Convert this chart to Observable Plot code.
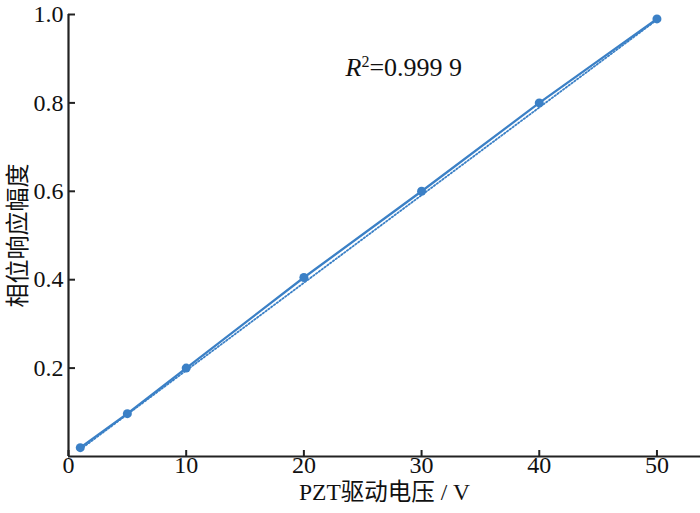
<!DOCTYPE html>
<html>
<head>
<meta charset="utf-8">
<script src="https://cdn.jsdelivr.net/npm/d3@7"></script>
<script src="https://cdn.jsdelivr.net/npm/@observablehq/plot@0.6"></script>
<style>
  body { margin: 0; background: #fff; }
  svg { font-family: "Liberation Serif", "Noto Sans CJK SC", serif; }
</style>
</head>
<body>
<div id="chart"></div>
<script>
const voltage = [1, 5, 10, 20, 30, 40, 50];
const amplitude = [0.02, 0.097, 0.2, 0.405, 0.6, 0.8, 0.99];
const fitVoltage = [1, 50];
const fitAmplitude = [0.016, 0.988];
const xTicks = [0, 10, 20, 30, 40, 50];
const yTicks = [0.2, 0.4, 0.6, 0.8, 1.0];
const r2Label = "0.999 9";

const pts = voltage.map((v, i) => ({v, a: amplitude[i]}));
const fit = fitVoltage.map((v, i) => ({v, a: fitAmplitude[i]}));
const color = "#3b80c6";
const font = '"Liberation Serif", "Noto Sans CJK SC", serif';

const chart = Plot.plot({
  width: 700,
  height: 513,
  marginLeft: 68,
  marginRight: 0,
  marginTop: 14,
  marginBottom: 57,
  style: {fontFamily: font, color: "#111", background: "#fff"},
  x: {domain: [0, 53.7]},
  y: {domain: [0, 1.0]},
  marks: [
    Plot.axisX({ticks: xTicks, tickSize: -6, tickFormat: () => "", label: null, stroke: "#222", strokeWidth: 2}),
    Plot.axisY({ticks: yTicks, tickSize: -7, tickFormat: () => "", label: null, stroke: "#222", strokeWidth: 2}),
    Plot.text(xTicks, {x: d => d, frameAnchor: "bottom", dy: 16, text: d => String(d), fontSize: 24, fill: "#111"}),
    Plot.text(yTicks, {y: d => d, frameAnchor: "left", dx: -5, textAnchor: "end", text: d => d.toFixed(1), fontSize: 24, fill: "#111"}),
    Plot.ruleX([0], {stroke: "#222", strokeWidth: 2.2}),
    Plot.ruleY([0], {stroke: "#222", strokeWidth: 2.2}),
    Plot.line(fit, {x: "v", y: "a", stroke: color, strokeWidth: 1.8, strokeDasharray: "1.5,2"}),
    Plot.line(pts, {x: "v", y: "a", stroke: color, strokeWidth: 2.3}),
    Plot.dot(pts, {x: "v", y: "a", r: 4.5, fill: color}),
    Plot.text([r2Label], {frameAnchor: "top-left", dx: 277, dy: 43, text: d => d, fontSize: 26, fill: "#111", textAnchor: "start", render: (index, scales, values, dims, ctx, next) => {
      const g = next(index, scales, values, dims, ctx);
      const t = g.querySelector("text");
      t.textContent = "";
      const ns = "http://www.w3.org/2000/svg";
      const a = document.createElementNS(ns, "tspan"); a.setAttribute("font-style", "italic"); a.textContent = "R";
      const b = document.createElementNS(ns, "tspan"); b.setAttribute("font-size", "16"); b.setAttribute("dy", "-9"); b.textContent = "2";
      const c = document.createElementNS(ns, "tspan"); c.setAttribute("dy", "9"); c.textContent = "=" + r2Label;
      t.append(a, b, c);
      return g;
    }}),
    Plot.text(["PZT驱动电压 / V"], {frameAnchor: "bottom", dy: 43, text: d => d, fontSize: 23.5, fill: "#111"}),
    Plot.text(["相位响应幅度"], {frameAnchor: "left", textAnchor: "middle", dx: -50, text: d => d, fontSize: 24, fill: "#111", rotate: -90})
  ]
});
document.getElementById("chart").append(chart);
</script>
</body>
</html>
